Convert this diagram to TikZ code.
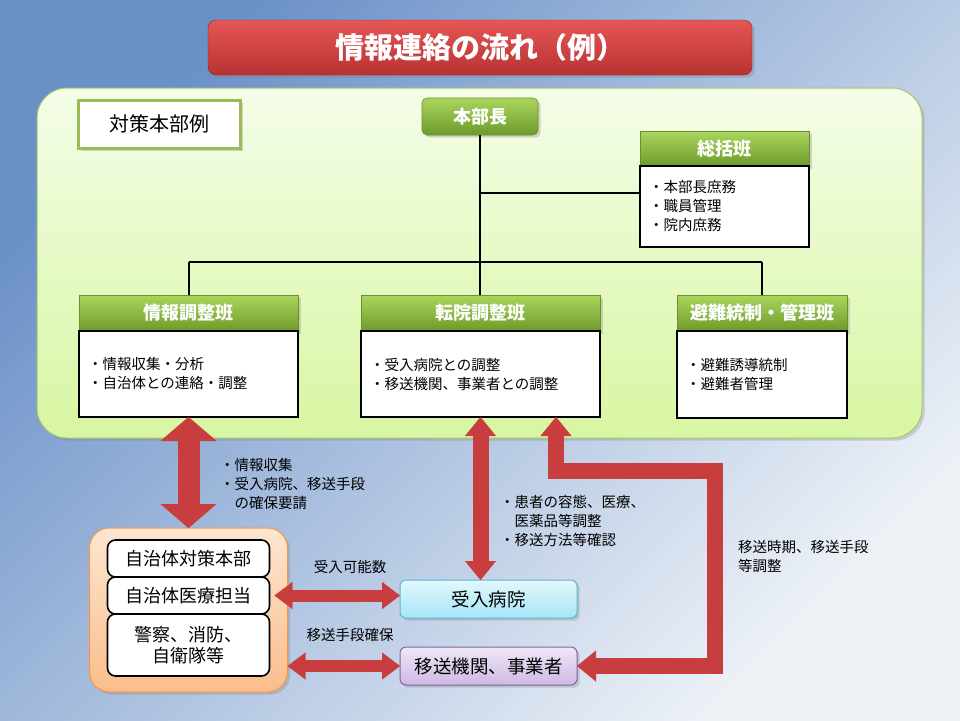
\documentclass[tikz,border=0pt]{standalone}
\usepackage{fontspec}
\setmainfont{Noto Sans CJK JP}
\usepackage{tikz}
\usetikzlibrary{arrows.meta, positioning, shadows}

\definecolor{bgdark}{HTML}{6A90C8}
\definecolor{bgmid}{HTML}{DAE3EF}
\definecolor{bglight}{HTML}{EEF2F7}
\definecolor{paneltop}{HTML}{F4FDE8}
\definecolor{panelbot}{HTML}{D8F6A2}
\definecolor{paneledge}{HTML}{A4C96A}
\definecolor{hdrtop}{HTML}{AAD65E}
\definecolor{hdrbot}{HTML}{6E9A2B}
\definecolor{hdredge}{HTML}{6A8F2C}
\definecolor{olive}{HTML}{9BBB59}
\definecolor{redtop}{HTML}{E65656}
\definecolor{redbot}{HTML}{B83232}
\definecolor{rededge}{HTML}{962828}
\definecolor{arrowred}{HTML}{C83E3E}
\definecolor{orangetop}{HTML}{FDE6D2}
\definecolor{orangebot}{HTML}{FABD8A}
\definecolor{orangeedge}{HTML}{F79646}
\definecolor{cyantop}{HTML}{E2F8FD}
\definecolor{cyanbot}{HTML}{A6E6F7}
\definecolor{cyanedge}{HTML}{5DB6CF}
\definecolor{lavtop}{HTML}{EEE7F6}
\definecolor{lavbot}{HTML}{CDB9E4}
\definecolor{lavedge}{HTML}{8064A2}

\begin{document}
\begin{tikzpicture}[
  x=1pt, y=-1pt,
  every node/.style={inner sep=0pt, outer sep=0pt},
  titlebox/.style={draw=rededge, top color=redtop, bottom color=redbot, rounded corners=8pt,
    text=white, font=\fontsize{29}{32}\selectfont\bfseries, drop shadow={opacity=0.35}},
  panel/.style={draw=paneledge, line width=1pt, top color=paneltop, bottom color=panelbot,
    rounded corners=30pt, drop shadow={opacity=0.3}},
  tagbox/.style={draw=olive, line width=3pt, fill=white, font=\fontsize{20}{22}\selectfont,
    drop shadow={opacity=0.3}},
  hdr/.style={draw=hdredge, line width=0.6pt, top color=hdrtop, bottom color=hdrbot, text=white,
    font=\fontsize{18}{20}\selectfont\bfseries, drop shadow={opacity=0.3}},
  duty/.style={draw=black, line width=1.8pt, fill=white, align=left, inner xsep=9pt,
    font=\fontsize{14.5}{19}\selectfont},
  orgline/.style={draw=black, line width=2pt},
  cityframe/.style={draw=orangeedge, line width=1pt, top color=orangetop, bottom color=orangebot,
    rounded corners=20pt, drop shadow={opacity=0.3}},
  citybox/.style={draw=black, line width=1.6pt, fill=white, rounded corners=8pt, align=center,
    minimum width=162pt, font=\fontsize{18}{21}\selectfont},
  hospbox/.style={draw=cyanedge, line width=1pt, top color=cyantop, bottom color=cyanbot,
    rounded corners=6pt, font=\fontsize{18.5}{21}\selectfont, drop shadow={opacity=0.3}},
  carrierbox/.style={draw=lavedge, line width=1pt, top color=lavtop, bottom color=lavbot,
    rounded corners=6pt, font=\fontsize{18.5}{21}\selectfont, drop shadow={opacity=0.3}},
  note/.style={align=left, font=\fontsize{14.5}{19}\selectfont},
  bigarrow/.style={draw=arrowred, line width=22pt,
    {Triangle[width=56pt,length=24pt,line width=0.1pt,fill=arrowred]}-{Triangle[width=56pt,length=24pt,line width=0.1pt,fill=arrowred]}},
  midarrow/.style={draw=arrowred, line width=16pt, line join=miter,
    {Triangle[width=31pt,length=19pt,line width=0.1pt,fill=arrowred]}-{Triangle[width=31pt,length=19pt,line width=0.1pt,fill=arrowred]}},
  smallarrow/.style={draw=arrowred, line width=12pt,
    {Triangle[width=27pt,length=18pt,line width=0.1pt,fill=arrowred]}-{Triangle[width=27pt,length=18pt,line width=0.1pt,fill=arrowred]}}
]

% background
\useasboundingbox (0,0) rectangle (960,720);
\shade[top color=bgdark, middle color=bgmid, bottom color=bglight, shading angle=45] (0,0) rectangle (960,720);

\node[titlebox, minimum width=544pt, minimum height=55pt] (title) at (480,47.5) {情報連絡の流れ（例）};

% headquarters
\node[panel, minimum width=885pt, minimum height=350pt] (panel) at (479.5,263) {};
\node[tagbox, minimum width=162pt, minimum height=48pt] (example) at (159,124) {対策本部例};

\node[hdr, minimum width=116pt, minimum height=37pt, rounded corners=5pt] (chief) at (480,116.5) {本部長};

\node[hdr, minimum width=169pt, minimum height=35pt] (general) at (724.5,148.5) {総括班};
\node[duty, below=0pt of general, minimum width=169pt, minimum height=81pt, text width=151pt] (generalbody)
  {・本部長庶務\\・職員管理\\・院内庶務};

\node[hdr, minimum width=219pt, minimum height=36pt] (info) at (188.5,313) {情報調整班};
\node[duty, below=0pt of info, minimum width=219pt, minimum height=86pt, text width=201pt] (infobody)
  {・情報収集・分析\\・自治体との連絡・調整};

\node[hdr, minimum width=239pt, minimum height=36pt] (transfer) at (480.5,313) {転院調整班};
\node[duty, below=0pt of transfer, minimum width=239pt, minimum height=86pt, text width=221pt] (transferbody)
  {・受入病院との調整\\・移送機関、事業者との調整};

\node[hdr, minimum width=170pt, minimum height=36pt] (evac) at (762,313) {避難統制・管理班};
\node[duty, below=0pt of evac, minimum width=170pt, minimum height=87pt, text width=152pt] (evacbody)
  {・避難誘導統制\\・避難者管理};

\coordinate (tee) at (480,193);
\coordinate (branch) at (480,262);
\draw[orgline] (chief.south) -- (chief.south |- transfer.north);
\draw[orgline] (tee) -- (tee -| generalbody.west);
\draw[orgline] (branch -| info.north) -- (branch -| evac.north);
\foreach \n in {info,evac}
  \draw[orgline] (branch -| \n.north) -- (\n.north);

% outside
\node[cityframe, minimum width=198pt, minimum height=164pt] (city) at (188.5,610) {};
\node[citybox, minimum height=37pt] (cityhq) at (188.5,558.5) {自治体対策本部};
\node[citybox, minimum height=37pt] (citymed) at (188.5,595.5) {自治体医療担当};
\node[citybox, minimum height=62pt] (rescue) at (188.5,645) {警察、消防、\\自衛隊等};

\node[hospbox, minimum width=177pt, minimum height=38pt] (hospital) at (488.5,599) {受入病院};
\node[carrierbox, minimum width=177pt, minimum height=38pt] (carrier) at (488.5,666) {移送機関、事業者};

\coordinate (turn) at (715,471);
\draw[bigarrow] (infobody.south) -- (city.north);
\draw[midarrow] (transferbody.south) -- (transferbody.south |- hospital.north);
\draw[midarrow] ([xshift=75.5pt]transferbody.south) |- (turn) |- (carrier.east);
\draw[smallarrow] ([xshift=5pt]citymed.east) -- (citymed.east -| hospital.west);
\draw[smallarrow] (city.east |- carrier.west) -- (carrier.west);

\node[note, anchor=west] (asklabel) at (220,484) {・情報収集\\・受入病院、移送手段\\\hspace*{1em}の確保要請};
\node[note] (bedlabel) at (350,567) {受入可能数};
\node[note] (meanslabel) at (350,635) {移送手段確保};
\node[note, anchor=west] (patientlabel) at (500,521) {・患者の容態、医療、\\\hspace*{1em}医薬品等調整\\・移送方法等確認};
\node[note, anchor=west] (timelabel) at (738,557) {移送時期、移送手段\\等調整};

\end{tikzpicture}
\end{document}
